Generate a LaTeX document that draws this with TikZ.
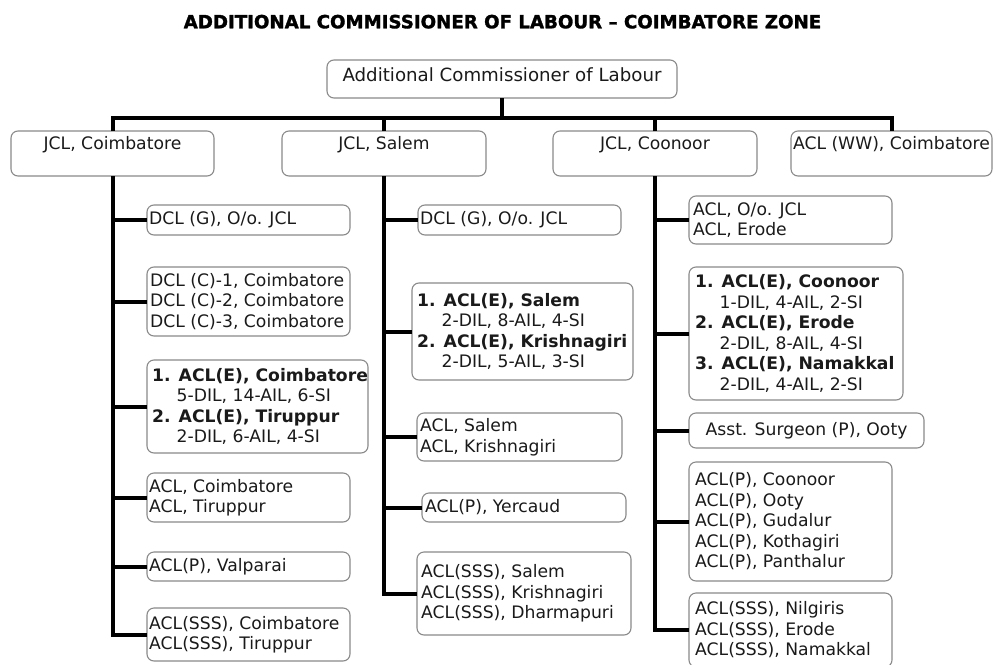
\documentclass[tikz,border=0pt]{standalone}
\usepackage{fontspec}
\setmainfont{DejaVu Sans}
\newfontfamily\titlefont{DejaVu Sans Bold}[FakeBold=1.6]
\definecolor{ink}{HTML}{1A1A1A}
\definecolor{edge}{HTML}{8A8A8A}
\newcommand\bodysize{\fontsize{17.2}{20.5}\selectfont}
\newcommand\subpad{\hphantom{\bfseries 1.\ }}
% \orgbox[text inset]{name}{x}{y}{width}{height}{text}
\newcommand\orgbox[7][3]{%
  \node[orgshape, minimum width=#5pt, minimum height=#6pt] (#2) at (#3,#4) {};
  \node[orgtext] (#2-t) at ([xshift=#1pt]#2.west) {#7};}
\tikzset{
  orgshape/.style={draw=edge, line width=1.1pt, rounded corners=7pt, fill=white,
    anchor=north west, inner sep=0pt, outer sep=0pt},
  orgtext/.style={anchor=west, align=left, inner sep=0pt, text=ink, font=\bodysize},
  headbox/.style={orgshape, align=center, text=ink, font=\bodysize, minimum height=45pt},
  link/.style={line width=4pt, black},
}
\begin{document}
\begin{tikzpicture}[x=1pt, y=-1pt]
\useasboundingbox (0,0) rectangle (993,664);
\fill[white] (0,0) rectangle (993,664);
\clip (0,0) rectangle (993,664);

% title
\node[anchor=base, inner sep=0pt, font=\fontsize{18.2}{20}\selectfont\titlefont] (title)
  at (502.5,28.3) {ADDITIONAL COMMISSIONER OF LABOUR – COIMBATORE ZONE};

% head of the zone
\node[orgshape, minimum width=350pt, minimum height=38pt] (top) at (327,60) {};
\node[inner sep=0pt, text=ink, font=\fontsize{18.2}{21}\selectfont] (top-t)
  at ([yshift=4pt]top.center) {Additional Commissioner of Labour};

% second level
\node[headbox, minimum width=203pt] (jclc) at (11,131) {JCL, Coimbatore\\[1pt]\mbox{}};
\node[headbox, minimum width=204pt] (jcls) at (282,131) {JCL, Salem\\[1pt]\mbox{}};
\node[headbox, minimum width=204pt] (jclk) at (553,131) {JCL, Coonoor\\[1pt]\mbox{}};
\node[headbox, minimum width=201pt] (ww) at (791,131) {ACL (WW), Coimbatore\\[1pt]\mbox{}};

% Coimbatore offices
\orgbox[2]{c1}{147}{205}{203}{30}{DCL (G), O/o. JCL}
\orgbox[3]{c2}{147}{267}{203}{69}{DCL (C)-1, Coimbatore\\DCL (C)-2, Coimbatore\\DCL (C)-3, Coimbatore}
\orgbox[5]{c3}{147}{360}{221}{93}{\textbf{1. ACL(E), Coimbatore}\\\subpad 5-DIL, 14-AIL, 6-SI\\\textbf{2. ACL(E), Tiruppur}\\\subpad 2-DIL, 6-AIL, 4-SI}
\orgbox[2]{c4}{147}{473}{203}{49}{ACL, Coimbatore\\ACL, Tiruppur}
\orgbox[2]{c5}{147}{552}{203}{29}{ACL(P), Valparai}
\orgbox[2]{c6}{147}{608}{203}{53}{ACL(SSS), Coimbatore\\ACL(SSS), Tiruppur}

% Salem offices
\orgbox[2]{s1}{418}{205}{203}{30}{DCL (G), O/o. JCL}
\orgbox[5]{s2}{412}{283}{221}{97}{\textbf{1. ACL(E), Salem}\\\subpad 2-DIL, 8-AIL, 4-SI\\\textbf{2. ACL(E), Krishnagiri}\\\subpad 2-DIL, 5-AIL, 3-SI}
\orgbox[3]{s3}{417}{413}{205}{48}{ACL, Salem\\ACL, Krishnagiri}
\orgbox[3]{s4}{422}{493}{204}{29}{ACL(P), Yercaud}
\orgbox[4]{s5}{417}{552}{214}{83}{ACL(SSS), Salem\\ACL(SSS), Krishnagiri\\ACL(SSS), Dharmapuri}

% Coonoor offices
\orgbox[4]{k1}{689}{196}{203}{48}{ACL, O/o. JCL\\ACL, Erode}
\orgbox[6]{k2}{689}{267}{214}{133}{\textbf{1. ACL(E), Coonoor}\\\subpad 1-DIL, 4-AIL, 2-SI\\\textbf{2. ACL(E), Erode}\\\subpad 2-DIL, 8-AIL, 4-SI\\\textbf{3. ACL(E), Namakkal}\\\subpad 2-DIL, 4-AIL, 2-SI}
\node[orgshape, minimum width=235pt, minimum height=35pt] (k3) at (689,413) {};
\node[inner sep=0pt, text=ink, font=\bodysize] (k3-t) at (k3.center) {Asst. Surgeon (P), Ooty};
\orgbox[6]{k4}{689}{462}{203}{119}{ACL(P), Coonoor\\ACL(P), Ooty\\ACL(P), Gudalur\\ACL(P), Kothagiri\\ACL(P), Panthalur}
\orgbox[6]{k5}{689}{593}{203}{74}{ACL(SSS), Nilgiris\\ACL(SSS), Erode\\ACL(SSS), Namakkal}

% connectors
\coordinate (bus) at (0,118);
\draw[link] (top.south) -- (top.south |- bus);
\draw[link] (jclc.north) |- (ww.north |- bus) -- (ww.north);
\draw[link] (jcls.north) -- (jcls.north |- bus);
\draw[link] (jclk.north) -- (jclk.north |- bus);

\draw[link] (jclc.south) |- (c6.west);
\foreach \b in {c1,c2,c3,c4,c5} \draw[link] (jclc.south |- \b.west) -- (\b.west);
\draw[link] (jcls.south) |- (s5.west);
\foreach \b in {s1,s2,s3,s4} \draw[link] (jcls.south |- \b.west) -- (\b.west);
\draw[link] (jclk.south) |- (k5.west);
\foreach \b in {k1,k2,k3,k4} \draw[link] (jclk.south |- \b.west) -- (\b.west);
\end{tikzpicture}
\end{document}
